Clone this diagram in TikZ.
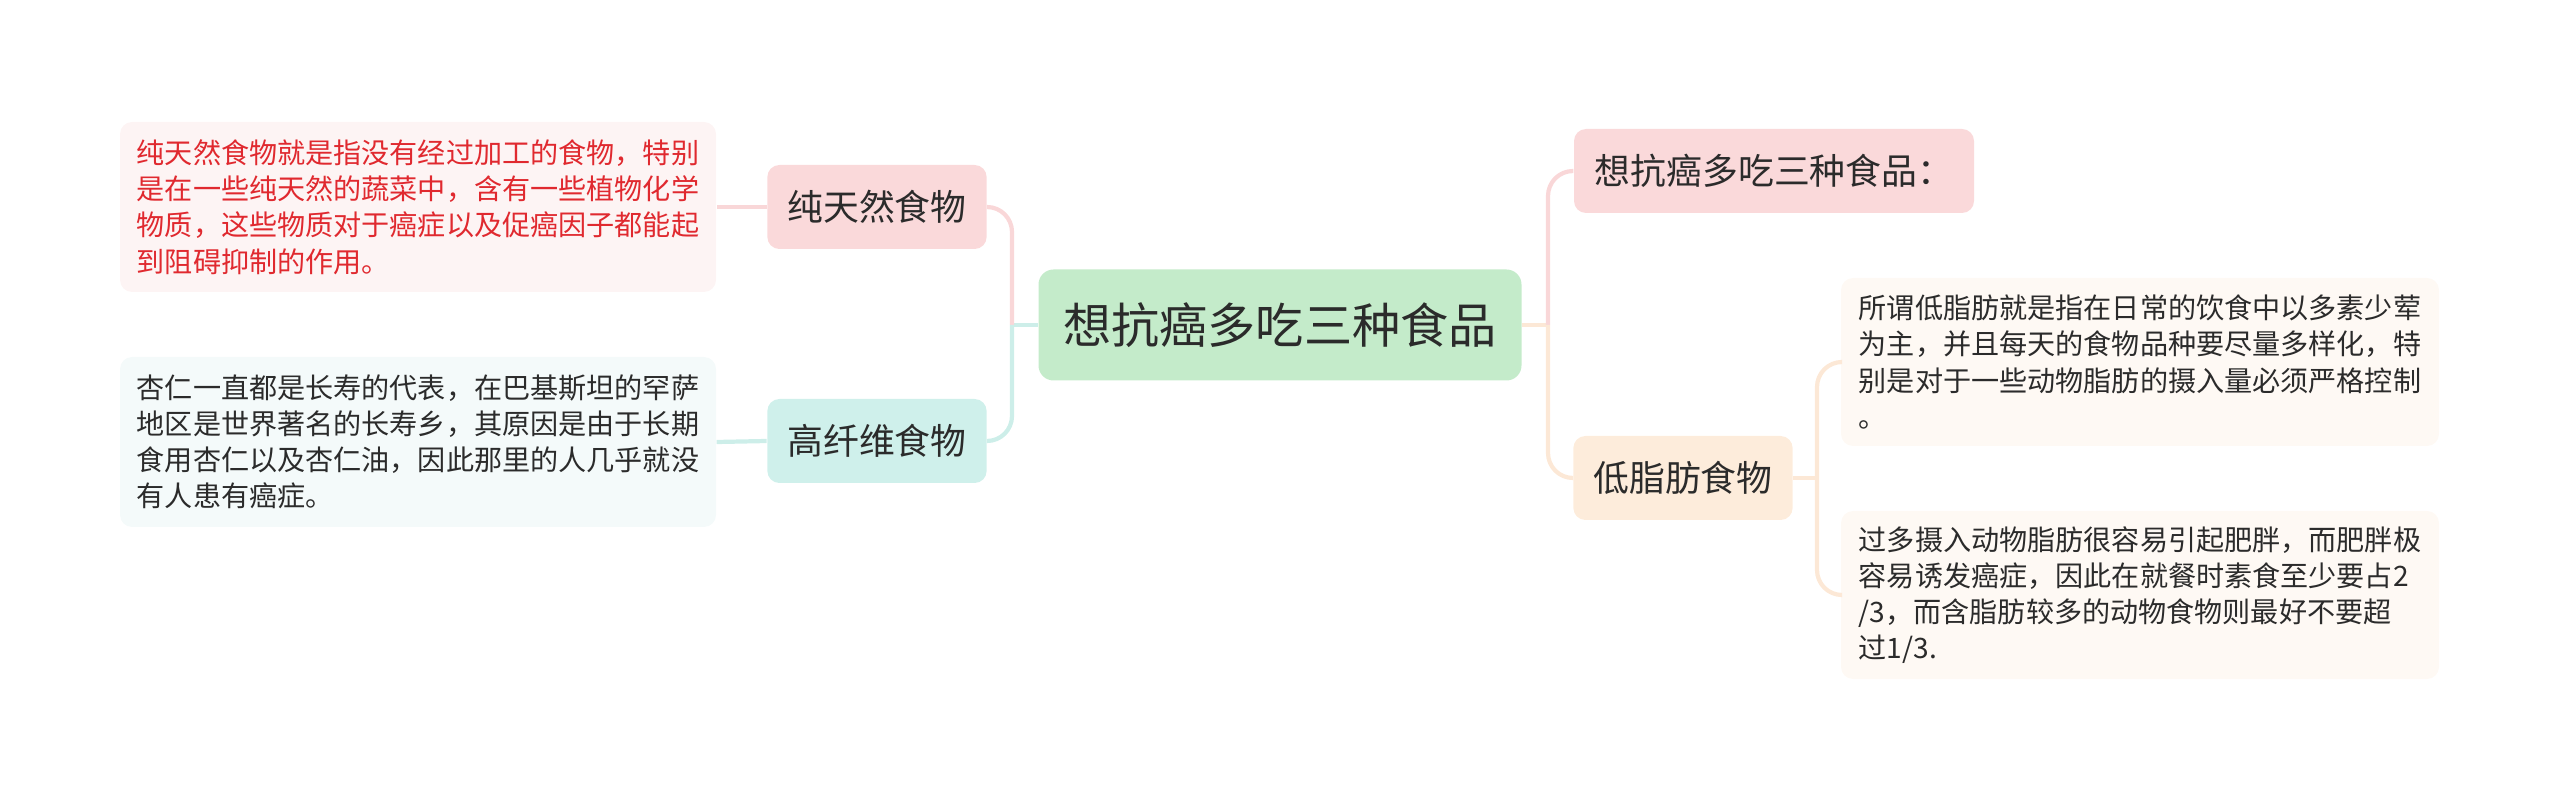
\documentclass[tikz,border=0pt]{standalone}
\usepackage{fontspec}
\setmainfont{Noto Sans CJK SC}
\usepackage{tikz}
\usetikzlibrary{positioning, calc}
\definecolor{hubGreen}{HTML}{C4EBCA}
\definecolor{topicPink}{HTML}{FAD9DA}
\definecolor{topicTeal}{HTML}{CFF0EB}
\definecolor{topicPeach}{HTML}{FDECDB}
\definecolor{notePink}{HTML}{FDF4F4}
\definecolor{noteTeal}{HTML}{F4FAFA}
\definecolor{notePeach}{HTML}{FEF9F4}
\definecolor{linkPink}{HTML}{F9D7D8}
\definecolor{linkTeal}{HTML}{CDEEE9}
\definecolor{linkPeach}{HTML}{FCE8D6}
\definecolor{noteRed}{HTML}{E0292F}
\definecolor{inkDark}{HTML}{2B2B2B}

\begin{document}
\begin{tikzpicture}[
  hub/.style={fill=hubGreen, rounded corners=1.5mm, minimum width=4.83cm, minimum height=1.11cm, align=center, font=\fontsize{13.7pt}{16pt}\selectfont, text=inkDark},
  topic/.style={rounded corners=1.2mm, minimum height=0.84cm, inner xsep=0.2cm, align=center, font=\fontsize{10.2pt}{12pt}\selectfont, text=inkDark},
  note/.style={rounded corners=1.2mm, minimum width=5.96cm, minimum height=1.70cm, inner xsep=0.15cm, align=left, font=\fontsize{8pt}{10.3pt}\selectfont, text=inkDark},
  link/.style={line width=1.2pt, rounded corners=2.5mm},
]
  \useasboundingbox (0,0) rectangle (25.6,-8.03);

  % Centre
  \node[hub] (root) at (12.80,-3.25) {想抗癌多吃三种食品};

  % Left branch
  \node[topic, fill=topicPink, minimum width=2.19cm] (natural) at (8.77,-2.07) {纯天然食物};
  \node[topic, fill=topicTeal, minimum width=2.19cm] (fiber) at (8.77,-4.41) {高纤维食物};
  \node[note, fill=notePink, text=noteRed] (naturalnote) at (4.18,-2.07)
    {纯天然食物就是指没有经过加工的食物，特别\\是在一些纯天然的蔬菜中，含有一些植物化学\\物质，这些物质对于癌症以及促癌因子都能起\\到阻碍抑制的作用。};
  \node[note, fill=noteTeal] (fibernote) at (4.18,-4.42)
    {杏仁一直都是长寿的代表，在巴基斯坦的罕萨\\地区是世界著名的长寿乡，其原因是由于长期\\食用杏仁以及杏仁油，因此那里的人几乎就没\\有人患有癌症。};

  % Right branch
  \node[topic, fill=topicPink, minimum width=4.00cm] (intro) at (17.74,-1.71) {想抗癌多吃三种食品：};
  \node[topic, fill=topicPeach, minimum width=2.19cm] (lowfat) at (16.83,-4.78) {低脂肪食物};
  \node[note, fill=notePeach, minimum height=1.68cm, minimum width=5.98cm] (lowfatnote) at (21.40,-3.62)
    {所谓低脂肪就是指在日常的饮食中以多素少荤\\为主，并且每天的食物品种要尽量多样化，特\\别是对于一些动物脂肪的摄入量必须严格控制\\。};
  \node[note, fill=notePeach, minimum height=1.68cm, minimum width=5.98cm] (ratenote) at (21.40,-5.95)
    {过多摄入动物脂肪很容易引起肥胖，而肥胖极\\容易诱发癌症，因此在就餐时素食至少要占2\\/3，而含脂肪较多的动物食物则最好不要超\\过1/3.};

  % Connectors
  \coordinate (lj) at (10.12,-3.25);
  \coordinate (rj) at (15.48,-3.25);
  \coordinate (fj) at (18.17,-4.78);
  \draw[link, linkTeal] (root.west) -- (lj);
  \draw[link, linkPink] (lj) |- (natural.east);
  \draw[link, linkTeal] (lj) |- (fiber.east);
  \draw[link, linkPink] (natural.west) -- (naturalnote.east);
  \draw[link, linkTeal] (fiber.west) -- (fibernote.east);
  \draw[link, linkPeach] (root.east) -- (rj);
  \draw[link, linkPink] (rj) |- (intro.west);
  \draw[link, linkPeach] (rj) |- (lowfat.west);
  \draw[link, linkPeach] (lowfat.east) -- (fj);
  \draw[link, linkPeach] (fj) |- (lowfatnote.west);
  \draw[link, linkPeach] (fj) |- (ratenote.west);
\end{tikzpicture}
\end{document}
